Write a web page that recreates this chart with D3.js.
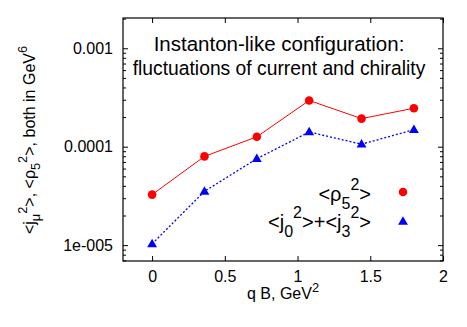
<!DOCTYPE html>
<html>
<head>
<meta charset="utf-8">
<script src="https://cdn.jsdelivr.net/npm/d3@7"></script>
<style>
  body { margin: 0; background: #fff; }
  svg { font-family: "Liberation Sans", Arial, sans-serif; }
</style>
</head>
<body>
<div id="chart"></div>
<script>
// data
var qB = [0, 0.36, 0.72, 1.08, 1.44, 1.8];
var rho5 = [3.26e-5, 7.97e-5, 1.26e-4, 2.95e-4, 1.93e-4, 2.46e-4];
var j03 = [1.03e-5, 3.52e-5, 7.55e-5, 1.41e-4, 1.06e-4, 1.49e-4];
var xTicks = [0, 0.5, 1, 1.5, 2];
var xTickLabels = ["0", "0.5", "1", "1.5", "2"];
var yTicks = [1e-5, 1e-4, 1e-3];
var yTickLabels = ["1e-005", "0.0001", "0.001"];

var svgWidth = 467, svgHeight = 327;
var margin = {top: 18, right: 24, bottom: 66, left: 123};
var width = svgWidth - margin.left - margin.right;
var height = svgHeight - margin.top - margin.bottom;

var svg = d3.select("#chart").append("svg")
  .attr("width", svgWidth)
  .attr("height", svgHeight);

var g = svg.append("g")
  .attr("transform", `translate(${margin.left}, ${margin.top})`);

var x = d3.scaleLinear().domain([-0.2, 2]).range([0, width]);
var y = d3.scaleLog().domain([6.9e-6, 2.03e-3]).range([height, 0]);

// minor ticks for the log axis
var minor = [];
[1e-5, 1e-4, 1e-3].forEach(function(dec) {
  for (var k = 2; k <= 9; k++) {
    var v = dec * k;
    if (v <= y.domain()[1]) minor.push(v);
  }
});
[7e-6, 8e-6, 9e-6].forEach(function(v) { if (v >= y.domain()[0]) minor.push(v); });

function styleAxis(sel) {
  sel.select(".domain").remove();
  sel.selectAll("line").attr("stroke", "#000").attr("stroke-width", 1);
  sel.selectAll("text").attr("fill", "#000").style("font-size", "16px");
}

// bottom and top x axes (ticks pointing inward)
g.append("g")
  .attr("transform", `translate(0, ${height})`)
  .call(d3.axisBottom(x).tickValues(xTicks).tickSize(-5).tickPadding(10)
    .tickFormat((d, i) => xTickLabels[i]))
  .call(styleAxis);
g.append("g")
  .call(d3.axisTop(x).tickValues(xTicks).tickSize(-5).tickFormat(""))
  .call(styleAxis);

// left and right y axes, major and minor
g.append("g")
  .call(d3.axisLeft(y).tickValues(yTicks).tickSize(-5).tickPadding(10)
    .tickFormat((d, i) => yTickLabels[i]))
  .call(styleAxis);
g.append("g")
  .call(d3.axisLeft(y).tickValues(minor).tickSize(-3).tickFormat(""))
  .call(styleAxis);
g.append("g")
  .attr("transform", `translate(${width}, 0)`)
  .call(d3.axisRight(y).tickValues(yTicks).tickSize(-5).tickFormat(""))
  .call(styleAxis);
g.append("g")
  .attr("transform", `translate(${width}, 0)`)
  .call(d3.axisRight(y).tickValues(minor).tickSize(-3).tickFormat(""))
  .call(styleAxis);

// frame
g.append("rect")
  .attr("width", width).attr("height", height)
  .attr("fill", "none").attr("stroke", "#000").attr("stroke-width", 1.2);

// series
var line = d3.line().x(d => x(d[0])).y(d => y(d[1]));
var redData = qB.map((q, i) => [q, rho5[i]]);
var blueData = qB.map((q, i) => [q, j03[i]]);

g.append("path").datum(redData)
  .attr("d", line).attr("fill", "none")
  .attr("stroke", "#ff0000").attr("stroke-width", 1);
g.append("path").datum(blueData)
  .attr("d", line).attr("fill", "none")
  .attr("stroke", "#0000ff").attr("stroke-width", 1.3)
  .attr("stroke-dasharray", "2,2");

g.selectAll("circle.red").data(redData).enter().append("circle")
  .attr("class", "red")
  .attr("cx", d => x(d[0])).attr("cy", d => y(d[1]))
  .attr("r", 4.3).attr("fill", "#ff0000");

var tri = d3.symbol().type(d3.symbolTriangle).size(42);
g.selectAll("path.blue").data(blueData).enter().append("path")
  .attr("class", "blue")
  .attr("d", tri)
  .attr("transform", d => `translate(${x(d[0])}, ${y(d[1]) + 0.5})`)
  .attr("fill", "#0000ff");

// title
var title = svg.append("text")
  .attr("text-anchor", "middle").attr("fill", "#000");
title.append("tspan").attr("x", 279).attr("y", 51)
  .style("font-size", "20.5px").text("Instanton-like configuration:");
title.append("tspan").attr("x", 279).attr("y", 75)
  .style("font-size", "19.3px").text("fluctuations of current and chirality");

// text with gnuplot-like sub/superscripts
function scripted(sel, parts, big, small, sub, sup) {
  var shift = 0;
  parts.forEach(function(p) {
    var target = p[1] === "sub" ? sub : p[1] === "sup" ? sup : 0;
    sel.append("tspan")
      .attr("dy", target - shift)
      .style("font-size", (p[1] ? small : big) + "px")
      .text(p[0]);
    shift = target;
  });
}

// legend
var leg1 = svg.append("text").attr("text-anchor", "end")
  .attr("x", 371).attr("y", 201);
scripted(leg1, [["<ρ"], ["5", "sub"], ["2", "sup"], [">"]], 20, 16, 8, -11);

var leg2 = svg.append("text").attr("text-anchor", "end")
  .attr("x", 371).attr("y", 229);
scripted(leg2, [["<j"], ["0", "sub"], ["2", "sup"], [">+<j"], ["3", "sub"], ["2", "sup"], [">"]], 20, 16, 8, -11);

svg.append("circle").attr("cx", 403).attr("cy", 192).attr("r", 4.3).attr("fill", "#ff0000");
svg.append("path").attr("d", tri)
  .attr("transform", "translate(403, 222)").attr("fill", "#0000ff");

// x axis label
var xl = svg.append("text").attr("text-anchor", "middle")
  .attr("x", 283).attr("y", 299);
scripted(xl, [["q B, GeV"], ["2", "sup"]], 16, 12.8, 5, -7);

// y axis label
var yl = svg.append("text").attr("text-anchor", "middle")
  .attr("transform", "translate(35, 140) rotate(-90)");
scripted(yl, [["<j"], ["μ", "sub"], ["2", "sup"], [">,  <ρ"], ["5", "sub"], ["2", "sup"],
  [">, both in GeV"], ["6", "sup"]], 16, 12.8, 5, -8);
</script>
</body>
</html>
